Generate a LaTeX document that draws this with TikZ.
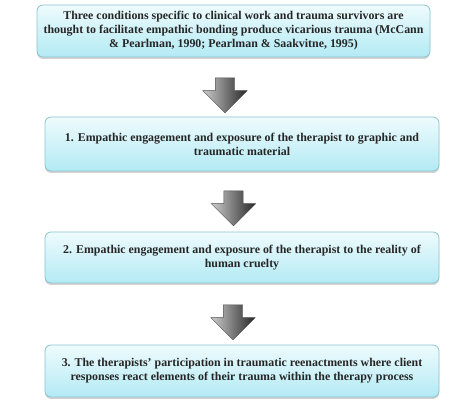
\documentclass[tikz,border=0pt]{standalone}
\usepackage{fontspec}
\setmainfont{Liberation Serif}
\usetikzlibrary{positioning,shapes.arrows,shadows}

\definecolor{boxtop}{HTML}{EEFBFD}
\definecolor{boxbottom}{HTML}{B3EAF4}
\definecolor{boxline}{HTML}{8DC3CF}

\tikzstyle{condition} = [rectangle, rounded corners=6pt, minimum width=394pt, minimum height=53pt, align=center, draw=boxline, line width=0.8pt, top color=boxtop, bottom color=boxbottom, drop shadow={shadow xshift=0pt, shadow yshift=-2pt, opacity=0.35}, font=\fontsize{11.9}{14}\selectfont\bfseries, text=black!85]
\tikzstyle{blockarrow} = [single arrow, rotate=-90, minimum height=35pt, minimum width=44pt, single arrow head extend=12.5pt, inner xsep=0pt, inner ysep=9.5pt, draw=black!70, line width=0.4pt, left color=black!20, right color=black!85]

\begin{document}
\begin{tikzpicture}[node distance = 2cm, auto]
	\useasboundingbox (0,0) rectangle (474pt,403pt);
	% Place nodes
	\node [condition, minimum width=393pt, minimum height=52pt] (Conditions) at (233.5pt,372pt) {Three conditions specific to clinical work and trauma survivors are\\ thought to facilitate empathic bonding produce vicarious trauma (McCann\\ \& Pearlman, 1990; Pearlman \& Saakvitne, 1995)};
	\node [condition, minimum height=54pt] (GraphicMaterial) at (242pt,259pt) {1. Empathic engagement and exposure of the therapist to graphic and\\ traumatic material};
	\node [condition, minimum height=51pt] (HumanCruelty) at (242pt,145.5pt) {2. Empathic engagement and exposure of the therapist to the reality of\\ human cruelty};
	\node [condition, minimum height=52pt] (Reenactments) at (242pt,32pt) {3. The therapists' participation in traumatic reenactments where client\\ responses react elements of their trauma within the therapy process};
	% Block arrows
	\node [blockarrow] (ArrowOne) at (225pt,312.5pt) {};
	\node [blockarrow] (ArrowTwo) at (233.5pt,199.5pt) {};
	\node [blockarrow] (ArrowThree) at (233pt,85.5pt) {};
\end{tikzpicture}
\end{document}
